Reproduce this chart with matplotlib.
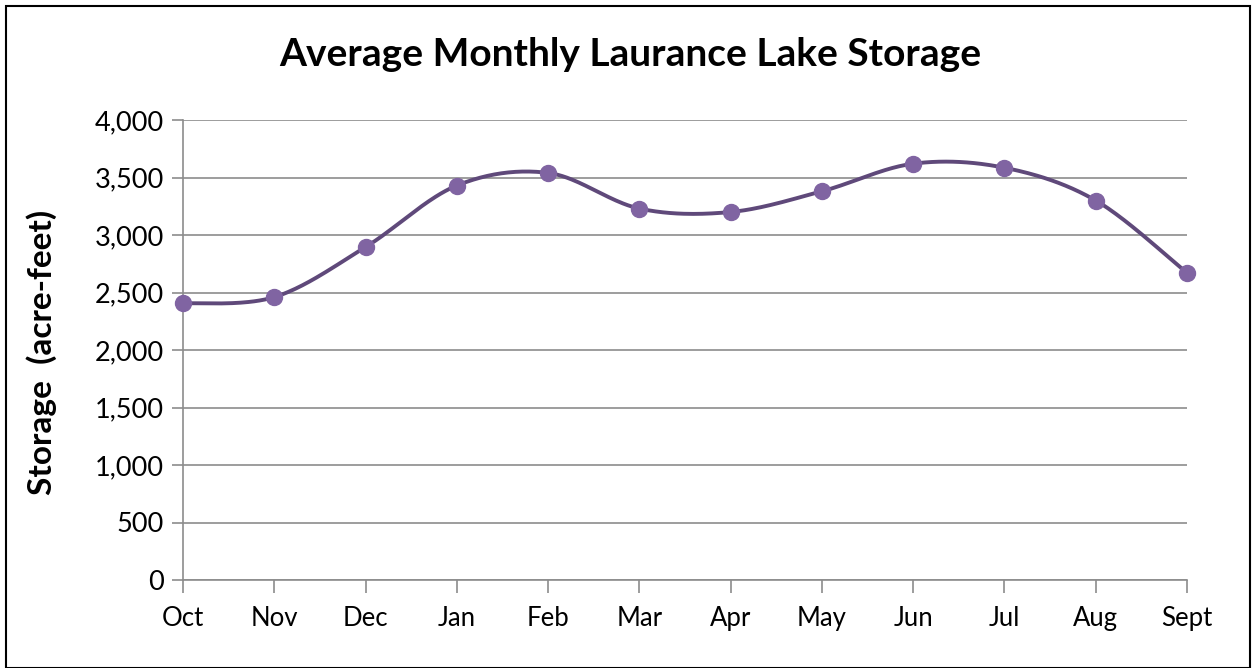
import numpy as np
import matplotlib.pyplot as plt
from matplotlib.patches import Rectangle

# data
months = ['Oct', 'Nov', 'Dec', 'Jan', 'Feb', 'Mar', 'Apr', 'May', 'Jun', 'Jul', 'Aug', 'Sept']
storage = [2405, 2460, 2895, 3430, 3540, 3230, 3200, 3380, 3620, 3585, 3300, 2670]
yticks = [0, 500, 1000, 1500, 2000, 2500, 3000, 3500, 4000]

LINE = '#5F497A'
MARK = '#8064A2'


def smooth(x, y, n=40):
    '''Excel-style smoothed line: cubic Bezier with Catmull-Rom control points'''
    pts = np.column_stack([x, y]).astype(float)
    pad = np.vstack([pts[0], pts, pts[-1]])
    out = []
    for i in range(len(pts) - 1):
        p0, p3 = pad[i + 1], pad[i + 2]
        p1 = p0 + (pad[i + 2] - pad[i]) / 6
        p2 = p3 - (pad[i + 3] - pad[i + 1]) / 6
        t = np.linspace(0, 1, n)[:, None]
        seg = ((1 - t) ** 3 * p0 + 3 * (1 - t) ** 2 * t * p1
               + 3 * (1 - t) * t ** 2 * p2 + t ** 3 * p3)
        out.append(seg if i == 0 else seg[1:])
    seg = np.vstack(out)
    return seg[:, 0], seg[:, 1]


plt.rcParams['font.family'] = ['Lato', 'DejaVu Sans']

fig = plt.figure(figsize=(12.52, 6.68), dpi=100)
ax = fig.add_axes([183 / 1252, 1 - 580 / 668, (1187 - 183) / 1252, (580 - 120) / 668])

x = np.arange(len(months))
sx, sy = smooth(x, storage)
ax.plot(sx, sy, color=LINE, lw=2.8, zorder=3, clip_on=False)
ax.plot(x, storage, 'o', color=MARK, ms=11.5, zorder=4, clip_on=False)

ax.set_xlim(0, len(months) - 1)
ax.set_ylim(0, 4000)
ax.set_yticks(yticks)
ax.set_yticklabels([f'{v:,}' for v in yticks], fontsize=19.5)
ax.set_xticks(x)
ax.set_xticklabels(months, fontsize=18.5)
ax.tick_params(axis='y', length=8, width=1.2, color='#8c8c8c', pad=6)
ax.tick_params(axis='x', length=9, width=1.2, color='#8c8c8c', pad=10)
ax.grid(axis='y', color='#8c8c8c', lw=1.2)
ax.set_axisbelow(True)
for s in ['top', 'right']:
    ax.spines[s].set_visible(False)
for s in ['left', 'bottom']:
    ax.spines[s].set_color('#8c8c8c')
    ax.spines[s].set_linewidth(1.2)

# axis title and chart title
fig.text(42 / 1252, 1 - 352 / 668, 'Storage  (acre-feet)', rotation=90,
         ha='center', va='center', fontsize=24, fontweight='bold')
fig.text(630 / 1252, 1 - 55 / 668, 'Average Monthly Laurance Lake Storage',
         ha='center', va='center', fontsize=28, fontweight='bold')

# outer chart frame
fig.patches.append(Rectangle((6 / 1252, 0), 1 - 8 / 1252, 1 - 6 / 668, transform=fig.transFigure,
                             fill=False, ec='black', lw=1.5))

fig.savefig('out.png', dpi=100)
